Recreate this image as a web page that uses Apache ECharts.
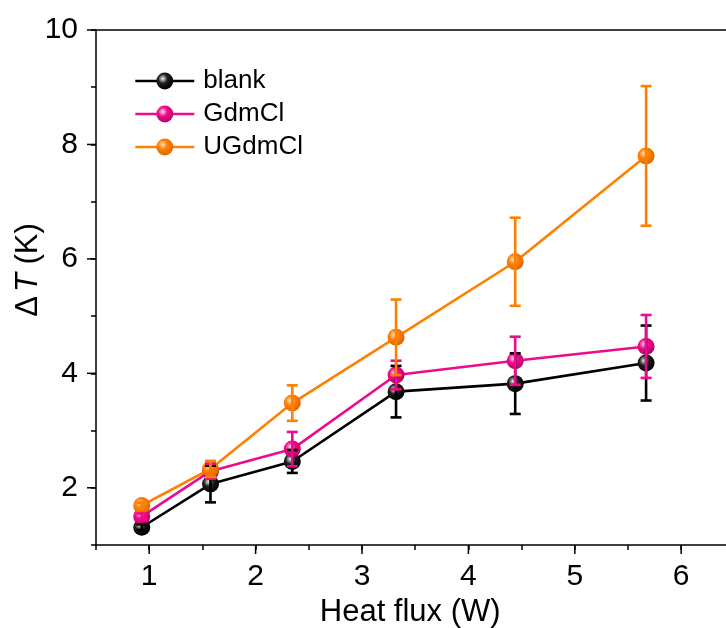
<!DOCTYPE html>
<html>
<head>
<meta charset="utf-8">
<script src="https://cdn.jsdelivr.net/npm/echarts@6/dist/echarts.min.js"></script>
<style>
  html, body { margin: 0; padding: 0; background: #fff; }
  #chart { width: 726px; height: 628px; }
</style>
</head>
<body>
<div id="chart"></div>
<script>
// Heat flux (W) at each measurement
const heatFlux = [0.93, 1.576, 2.345, 3.32, 4.44, 5.67];

// Temperature difference ΔT (K) and standard deviations
const blankT = [1.31, 2.065, 2.46, 3.68, 3.82, 4.18];
const blankErr = [0.05, 0.32, 0.20, 0.45, 0.53, 0.655];

const gdmT = [1.50, 2.29, 2.676, 3.97, 4.22, 4.47];
const gdmErr = [0.05, 0.13, 0.30, 0.25, 0.42, 0.55];

const ugdmT = [1.69, 2.33, 3.48, 4.63, 5.95, 7.80];
const ugdmErr = [0.05, 0.14, 0.31, 0.66, 0.77, 1.22];

// Axis tick labels
const xTickLabels = [1, 2, 3, 4, 5, 6];
const yTickLabels = [2, 4, 6, 8, 10];

const seriesNames = ['blank', 'GdmCl', 'UGdmCl'];
const seriesColors = ['#000000', '#ee0a8c', '#ff8000'];
const sphereStops = [
  ['#f4f4f4', '#202020', '#000000'],
  ['#ffd6ee', '#ee0a8c', '#c0006c'],
  ['#ffe2c2', '#ff8000', '#e06a00']
];

const font = 'Liberation Sans, Arial, sans-serif';

function sphere(i) {
  const s = sphereStops[i];
  return {
    type: 'radial', x: 0.38, y: 0.36, r: 0.62,
    colorStops: [
      { offset: 0, color: s[0] },
      { offset: 0.45, color: s[1] },
      { offset: 1, color: s[2] }
    ]
  };
}

function errorSeries(idx, vals, errs) {
  const data = heatFlux.map((x, k) => [x, vals[k] - errs[k], vals[k] + errs[k]]);
  return {
    type: 'custom',
    name: seriesNames[idx] + ' err',
    z: 10,
    silent: true,
    data: data,
    encode: { x: 0, y: [1, 2] },
    renderItem: function (params, api) {
      const x = api.value(0);
      const lo = api.coord([x, api.value(1)]);
      const hi = api.coord([x, api.value(2)]);
      const half = 5.5;
      const style = { stroke: seriesColors[idx], lineWidth: 2.6 };
      return {
        type: 'group',
        children: [
          { type: 'line', shape: { x1: lo[0], y1: lo[1], x2: hi[0], y2: hi[1] }, style: style },
          { type: 'line', shape: { x1: hi[0] - half, y1: hi[1], x2: hi[0] + half, y2: hi[1] }, style: style },
          { type: 'line', shape: { x1: lo[0] - half, y1: lo[1], x2: lo[0] + half, y2: lo[1] }, style: style }
        ]
      };
    }
  };
}

function lineSeries(idx, vals) {
  return {
    type: 'line',
    name: seriesNames[idx],
    z: 2 + idx,
    data: heatFlux.map((x, k) => [x, vals[k]]),
    symbol: 'circle',
    symbolSize: 17,
    lineStyle: { color: seriesColors[idx], width: 2.6 },
    itemStyle: { color: sphere(idx), borderWidth: 0 },
    emphasis: { disabled: true }
  };
}

const chart = echarts.init(document.getElementById('chart'), null, { renderer: 'canvas' });

chart.setOption({
  animation: false,
  backgroundColor: '#ffffff',
  grid: {
    left: 96, top: 30, width: 638.4, height: 515,
    containLabel: false, outerBoundsMode: 'none'
  },
  legend: {
    left: 129, top: 63,
    orient: 'vertical',
    itemWidth: 59, itemHeight: 21, itemGap: 7,
    data: seriesNames,
    lineStyle: { width: 2.6 },
    textStyle: { fontFamily: font, fontSize: 26, color: '#000', padding: [0, 0, 0, 4] },
    selectedMode: false
  },
  xAxis: [{
    type: 'value',
    min: 0.5, max: 6.5, interval: 0.5,
    axisLine: { show: true, onZero: false, lineStyle: { color: '#000', width: 1.5 } },
    axisTick: { show: true, inside: false, length: 5, lineStyle: { color: '#000', width: 1.5 } },
    axisLabel: {
      show: true, margin: 17, fontFamily: font, fontSize: 30, color: '#000',
      formatter: function (v) { return xTickLabels.indexOf(v) >= 0 ? String(v) : ''; }
    },
    splitLine: { show: false },
    name: 'Heat flux (W)',
    nameLocation: 'middle', nameGap: 46,
    nameTextStyle: { fontFamily: font, fontSize: 31, color: '#000', padding: [0, 10, 0, 0] }
  }, {
    type: 'value', position: 'top',
    min: 0.5, max: 6.5,
    axisLine: { show: true, onZero: false, lineStyle: { color: '#000', width: 1.5 } },
    axisTick: { show: false }, axisLabel: { show: false }, splitLine: { show: false }
  }],
  yAxis: {
    type: 'value',
    min: 1, max: 10, interval: 1,
    axisLine: { show: true, onZero: false, lineStyle: { color: '#000', width: 1.5 } },
    axisTick: { show: true, length: 5, lineStyle: { color: '#000', width: 1.5 } },
    axisLabel: {
      show: true, margin: 18, fontFamily: font, fontSize: 30, color: '#000',
      formatter: function (v) { return yTickLabels.indexOf(v) >= 0 ? String(v) : ''; }
    },
    splitLine: { show: false }
  },
  series: [
    lineSeries(0, blankT),
    lineSeries(1, gdmT),
    lineSeries(2, ugdmT),
    errorSeries(0, blankT, blankErr),
    errorSeries(1, gdmT, gdmErr),
    errorSeries(2, ugdmT, ugdmErr)
  ]
});

// longer ticks at the labelled (major) positions, and the rotated y-axis title
chart.setOption({
  graphic: (function () {
    const els = [];
    xTickLabels.forEach(function (v) {
      const p = chart.convertToPixel({ xAxisIndex: 0 }, v);
      els.push({ type: 'line', shape: { x1: p, y1: 545, x2: p, y2: 554 }, style: { stroke: '#000', lineWidth: 1.5 }, silent: true });
    });
    yTickLabels.forEach(function (v) {
      const p = chart.convertToPixel({ yAxisIndex: 0 }, v);
      els.push({ type: 'line', shape: { x1: 87, y1: p, x2: 96, y2: p }, style: { stroke: '#000', lineWidth: 1.5 }, silent: true });
    });
    els.push({
      type: 'text',
      x: 28, y: 270,
      rotation: Math.PI / 2,
      silent: true,
      style: {
        text: '{d|\u0394}{t|T} {k|(K)}',
        align: 'center', verticalAlign: 'middle',
        fontFamily: font, fontSize: 31, fill: '#000',
        rich: {
          d: { fontFamily: font, fontSize: 31, fill: '#000', padding: [0, 4, 0, 0] },
          t: { fontFamily: font, fontSize: 31, fill: '#000', fontStyle: 'italic' },
          k: { fontFamily: font, fontSize: 31, fill: '#000' }
        }
      }
    });
    return els;
  })()
});
</script>
</body>
</html>
